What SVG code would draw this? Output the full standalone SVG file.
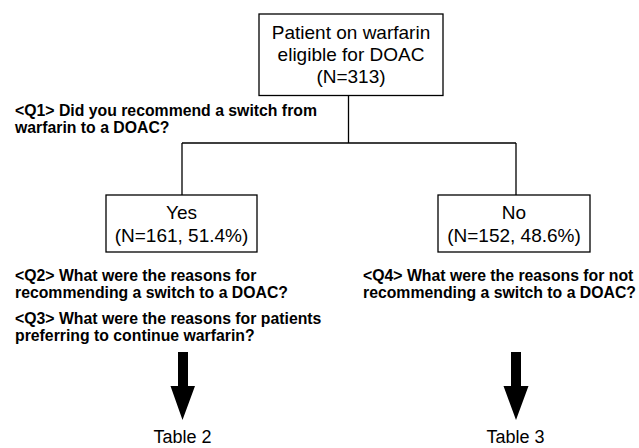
<svg xmlns="http://www.w3.org/2000/svg" width="639" height="448" viewBox="0 0 639 448">
<style>
.box{fill:#fff;stroke:#000;stroke-width:1.3}
.ln{fill:none;stroke:#000;stroke-width:1.3}
.t{font-family:"Liberation Sans",Arial,sans-serif;font-size:19px;fill:#000;text-anchor:middle}
.tb{font-family:"Liberation Sans",Arial,sans-serif;font-size:18px;fill:#000;text-anchor:middle}
.q{font-family:"Liberation Sans",Arial,sans-serif;font-size:15.8px;font-weight:bold;fill:#000}
.arr{fill:#000}
</style>
<rect width="639" height="448" fill="#fff"/>
<g id="connectors">
<path class="ln" d="M348.5 95.5V143M182 143H516M182 143V195M516 143V195"/>
<polygon class="arr" points="178,352 188,352 188,386 195,386 182.5,420 170.5,386 178,386"/>
<polygon class="arr" points="511,352 521,352 521,386 528.5,386 516,420 503.5,386 511,386"/>
</g>
<g id="root">
<rect class="box" x="259" y="14" width="184" height="81.5"/>
<text class="t" x="351" y="39">Patient on warfarin</text>
<text class="t" x="351" y="61">eligible for DOAC</text>
<text class="t" x="351" y="83">(N=313)</text>
</g>
<g id="q1">
<text class="q" x="15" y="116">&lt;Q1&gt; Did you recommend a switch from</text>
<text class="q" x="15" y="132.5">warfarin to a DOAC?</text>
</g>
<g id="yes">
<rect class="box" x="106" y="195" width="151" height="57"/>
<text class="t" x="181.5" y="219">Yes</text>
<text class="t" x="181.5" y="242">(N=161, 51.4%)</text>
</g>
<g id="no">
<rect class="box" x="438" y="195" width="152" height="57"/>
<text class="t" x="514" y="219">No</text>
<text class="t" x="514" y="242">(N=152, 48.6%)</text>
</g>
<g id="q2">
<text class="q" x="15" y="281">&lt;Q2&gt; What were the reasons for</text>
<text class="q" x="15" y="297.5">recommending a switch to a DOAC?</text>
</g>
<g id="q3">
<text class="q" x="15" y="324">&lt;Q3&gt; What were the reasons for patients</text>
<text class="q" x="15" y="340.5">preferring to continue warfarin?</text>
</g>
<g id="q4">
<text class="q" x="363" y="281">&lt;Q4&gt; What were the reasons for not</text>
<text class="q" x="363" y="297.5">recommending a switch to a DOAC?</text>
</g>
<g id="table2">
<text class="tb" x="182.5" y="443">Table 2</text>
</g>
<g id="table3">
<text class="tb" x="515.5" y="443">Table 3</text>
</g>
</svg>
